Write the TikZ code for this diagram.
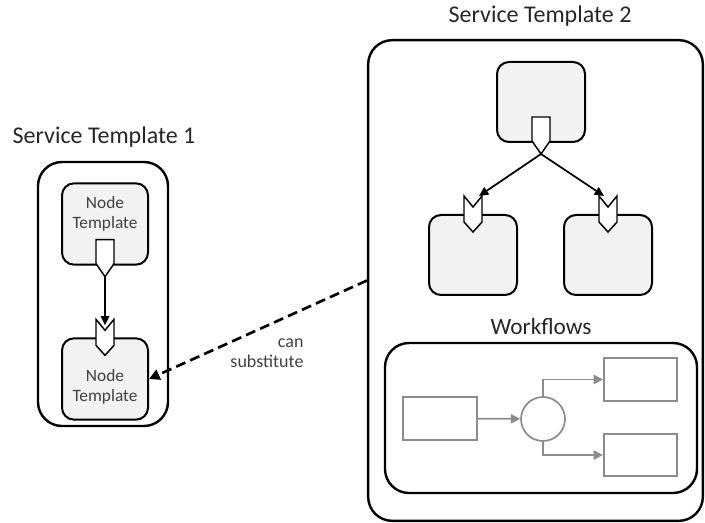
\documentclass[tikz,border=0pt]{standalone}
\usepackage{fontspec}
\setmainfont{Carlito}
\usepackage{xcolor}
\usepackage{tikz}
\usetikzlibrary{calc}
\usetikzlibrary{arrows.meta}
\definecolor{nodefill}{HTML}{F2F2F2}
\definecolor{wfgrey}{HTML}{8C8C8C}
\definecolor{txtgrey}{HTML}{404040}

\begin{document}
\begin{tikzpicture}[x=0.75pt,y=-0.75pt]
\tikzstyle{svc}=[draw, line width=1.8pt, rounded corners=18pt, shape=rectangle]
\tikzstyle{tmpl}=[draw, line width=1.5pt, fill=nodefill, rounded corners=9pt, shape=rectangle, minimum width=64.5pt, minimum height=61pt]
\tikzstyle{tmpltxt}=[align=center, font=\fontsize{13}{15}\selectfont, text=txtgrey]
\tikzstyle{title}=[font=\fontsize{18}{21}\selectfont, text=black!85]
\tikzstyle{port}=[draw, line width=1.1pt, fill=white, line join=miter]
\tikzstyle{wfstep}=[draw=wfgrey, line width=1.3pt, shape=rectangle, minimum width=55pt, minimum height=32pt]
\tikzstyle{wflink}=[draw=wfgrey, line width=1.3pt, -{Triangle[length=7pt,width=7pt]}]
\useasboundingbox (0,0) rectangle (705,523);
%
% service template 1
\node[svc, minimum width=97.5pt, minimum height=198pt](st1) at (103,294){};
\node[title](st1lbl) at (104,137){Service Template 1};
\node[tmpl](nt1) at (105,224){};
\node[tmpl](nt2) at (105,379){};
\node[tmpltxt](nt1txt) at ([shift={(0,-10)}]nt1.center){Node\\Template};
\node[tmpltxt](nt2txt) at ([shift={(0,8)}]nt2.center){Node\\Template};
%
% service template 2
\node[svc, minimum width=251pt, minimum height=360.5pt](st2) at (535.5,280.5){};
\node[title](st2lbl) at (540,16){Service Template 2};
\node[tmpl, minimum width=66pt, minimum height=60pt](top) at (541,102){};
\node[tmpl, minimum width=66pt, minimum height=60pt](left) at (473,255){};
\node[tmpl, minimum width=66pt, minimum height=60pt](right) at (608,255){};
%
% ports: outgoing on the bottom edge, incoming on the top edge
\foreach \n in {nt1,top}{
\draw[port] ([shift={(-9,-26)}]\n.south) -- ++(18,0) -- ++(0,24) -- ++(-9,13) -- ++(-9,-13) -- cycle;
\coordinate (\n-out) at ([shift={(0,11)}]\n.south);
}
\foreach \n in {nt2,left,right}{
\draw[port] ([shift={(-9,-18)}]\n.north) -- ++(9,11) -- ++(9,-11) -- ++(0,26) -- ++(-9,10) -- ++(-9,-10) -- cycle;
}
\coordinate (nt2-in) at ([shift={(0,-12)}]nt2.north);
\coordinate (left-in) at ([shift={(6,-18)}]left.north);
\coordinate (right-in) at ([shift={(-4,-18)}]right.north);
%
\draw[line width=1.3pt, -{Triangle[length=7pt,width=6.5pt]}] (nt1-out) -- (nt2-in);
\draw[line width=1.3pt, -{Triangle[length=7pt,width=6.5pt]}] (top-out) -- (left-in);
\draw[line width=1.3pt, -{Triangle[length=7pt,width=6.5pt]}] (top-out) -- (right-in);
%
% workflows
\node[title, font=\fontsize{17.5}{21}\selectfont](wflbl) at (541,326){Workflows};
\node[svc, minimum width=234pt, minimum height=112.5pt](wf) at (541,418){};
\node[wfstep](wfstart) at (440,418.5){};
\node[draw=wfgrey, line width=1.3pt, shape=circle, minimum size=33pt, inner sep=0pt](wfjoin) at (543,419){};
\node[wfstep](wfa) at (640.5,379.5){};
\node[wfstep](wfb) at (640.5,455){};
\draw[wflink] (wfstart) -- (wfjoin);
\draw[wflink] (wfjoin.north) |- (wfa.west);
\draw[wflink] (wfjoin.south) |- (wfb.west);
%
% substitution
\draw[line width=2pt, dash pattern=on 7.5pt off 4pt, -{Triangle[length=8pt,width=8pt]}] (st2.west) -- (nt2.east);
\node[align=right, font=\fontsize{13.5}{15}\selectfont, text=txtgrey](sublbl) at (267,353){can\\substitute};
%
\end{tikzpicture}
\end{document}
